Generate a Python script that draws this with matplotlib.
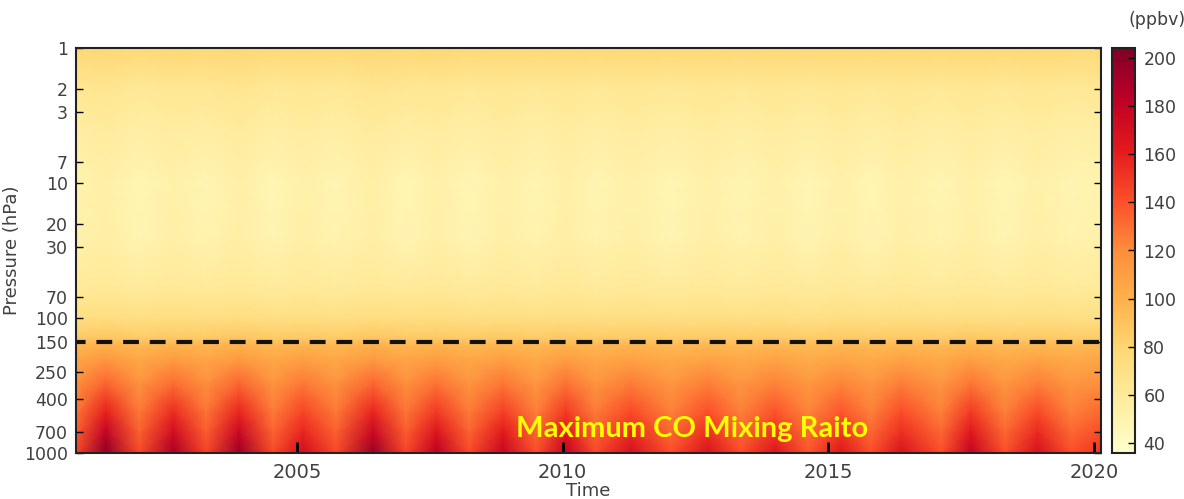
import numpy as np
import matplotlib
matplotlib.use('Agg')
import matplotlib.pyplot as plt

plt.rcParams['font.family'] = ['DejaVu Sans']

# time nodes (decimal year): alternating seasonal troughs / peaks of surface CO
years = [2000.84, 2001.40, 2002.03, 2002.67, 2003.29, 2003.91, 2004.55, 2005.11,
         2005.73, 2006.43, 2007.05, 2007.62, 2008.24, 2008.88, 2009.50, 2010.06,
         2010.61, 2011.28, 2012.04, 2012.73, 2013.35, 2013.99, 2014.62, 2015.24,
         2015.80, 2016.37, 2017.12, 2017.68, 2018.32, 2018.94, 2019.56, 2020.13]

# pressure levels (hPa)
levels = [1, 2, 4, 10, 25, 60, 100, 140, 160, 200, 300, 500, 700, 1000]

# CO mixing ratio (ppbv), one row per pressure level
co_1 = [78, 79, 77, 79, 78, 79, 77, 78, 77, 79, 78, 79, 77, 78, 77, 78,
        77, 78, 77, 78, 77, 78, 77, 78, 77, 78, 77, 78, 77, 78, 77, 77]
co_2 = [63, 65, 62, 64, 63, 65, 62, 64, 62, 65, 63, 64, 62, 64, 62, 64,
        62, 64, 62, 64, 62, 64, 62, 64, 62, 64, 62, 64, 62, 64, 62, 63]
co_4 = [56, 59, 55, 58, 56, 59, 55, 58, 55, 59, 56, 58, 55, 58, 55, 58,
        55, 58, 55, 58, 55, 58, 55, 58, 55, 58, 55, 58, 55, 58, 55, 56]
co_10 = [51, 54, 48, 53, 49, 54, 48, 53, 49, 54, 48, 53, 48, 53, 49, 54,
         49, 53, 48, 53, 49, 53, 48, 53, 48, 53, 49, 53, 48, 53, 49, 51]
co_25 = [52, 55, 49, 54, 50, 55, 49, 54, 50, 55, 49, 54, 49, 54, 50, 55,
         50, 54, 49, 54, 50, 54, 49, 54, 49, 54, 50, 54, 49, 54, 50, 52]
co_60 = [60, 62, 59, 61, 60, 62, 59, 61, 59, 62, 60, 61, 59, 61, 59, 62,
         59, 61, 59, 61, 59, 61, 59, 61, 59, 61, 59, 61, 59, 61, 59, 60]
co_100 = [72, 73, 71, 73, 72, 73, 71, 72, 71, 73, 72, 73, 71, 72, 71, 72,
          71, 72, 71, 72, 71, 72, 70, 72, 71, 72, 71, 72, 71, 72, 71, 71]
co_140 = [86, 88, 85, 87, 86, 88, 85, 87, 85, 88, 86, 87, 85, 87, 85, 87,
          85, 86, 85, 86, 85, 86, 84, 86, 85, 86, 85, 87, 85, 86, 85, 85]
co_160 = [97, 100, 96, 99, 97, 100, 96, 98, 96, 100, 97, 99, 96, 98, 96, 99,
          96, 98, 95, 97, 95, 97, 95, 97, 95, 97, 95, 98, 95, 97, 95, 96]
co_200 = [105, 113, 104, 111, 105, 112, 104, 109, 104, 112, 105, 110, 104, 109, 103, 110,
          104, 108, 103, 107, 103, 107, 102, 106, 103, 107, 103, 109, 103, 107, 103, 105]
co_300 = [117, 133, 116, 130, 117, 132, 115, 126, 116, 132, 117, 128, 115, 127, 114, 128,
          115, 125, 114, 124, 114, 123, 113, 122, 114, 124, 114, 127, 114, 124, 114, 118]
co_500 = [128, 160, 127, 155, 128, 158, 126, 145, 127, 158, 128, 150, 126, 147, 125, 149,
          126, 143, 124, 141, 124, 140, 123, 139, 124, 142, 124, 149, 124, 143, 124, 132]
co_700 = [136, 180, 135, 172, 136, 176, 134, 158, 135, 176, 136, 166, 134, 162, 133, 164,
          134, 156, 132, 154, 132, 152, 131, 151, 132, 154, 132, 164, 132, 156, 132, 142]
co_1000 = [145, 200, 143, 190, 145, 195, 143, 172, 143, 195, 145, 184, 143, 178, 141, 180,
           143, 170, 141, 168, 141, 166, 139, 165, 141, 168, 141, 180, 141, 170, 141, 152]

cbar_ticks = [40, 60, 80, 100, 120, 140, 160, 180, 200]
p_ticks = [1, 2, 3, 7, 10, 20, 30, 70, 100, 150, 250, 400, 700, 1000]
year_ticks = [2005, 2010, 2015, 2020]

co = np.array([co_1, co_2, co_4, co_10, co_25, co_60, co_100, co_140,
               co_160, co_200, co_300, co_500, co_700, co_1000])

fig = plt.figure(figsize=(11.84, 4.99), dpi=100)
ax = fig.add_axes([76 / 1184, 46 / 499, 1025 / 1184, 405 / 499])
cax = fig.add_axes([1112 / 1184, 46 / 499, 23 / 1184, 405 / 499])

X, Y = np.meshgrid(years, levels)
mesh = ax.pcolormesh(X, Y, co, shading='gouraud', cmap='YlOrRd',
                     vmin=36, vmax=204, rasterized=True)

ax.set_yscale('log')
ax.set_ylim(1000, 1)
ax.set_xlim(2000.84, 2020.13)
ax.yaxis.set_major_locator(matplotlib.ticker.FixedLocator(p_ticks))
ax.yaxis.set_minor_locator(matplotlib.ticker.NullLocator())
ax.yaxis.set_major_formatter(matplotlib.ticker.FixedFormatter([str(p) for p in p_ticks]))
ax.set_xticks(year_ticks)
ax.set_xticklabels([str(y) for y in year_ticks])

# tropopause marker
ax.axhline(150, color='#111111', lw=3, ls=(1.5, (3.8, 2.6)))

ax.text(2009.12, 761, 'Maximum CO Mixing Raito', color='#ffff00',
        fontsize=21, fontweight='bold', family='Lato', ha='left', va='baseline')

tick_col = '#404040'
ax.tick_params(axis='y', which='major', direction='in', length=5, width=1,
               left=True, right=True, labelsize=12.5, labelcolor=tick_col, pad=6)
ax.tick_params(axis='x', which='major', direction='in', length=8, width=2,
               top=False, labelsize=14, labelcolor=tick_col, pad=7)
for s in ax.spines.values():
    s.set_linewidth(1.5)
    s.set_color('#222222')

ax.set_ylabel('Pressure (hPa)', fontsize=13, color=tick_col, labelpad=2)
ax.set_xlabel('Time', fontsize=13, color=tick_col, labelpad=0)

cb = fig.colorbar(mesh, cax=cax, ticks=cbar_ticks)
cb.ax.tick_params(direction='in', length=5, width=1, labelsize=12.5,
                  labelcolor=tick_col, pad=6)
cb.outline.set_linewidth(1.5)
cb.outline.set_edgecolor('#222222')
fig.text(1157 / 1184, 1 - 20 / 499, '(ppbv)', fontsize=12.5, color=tick_col,
         ha='center', va='center')

fig.savefig('out.png', dpi=100)
